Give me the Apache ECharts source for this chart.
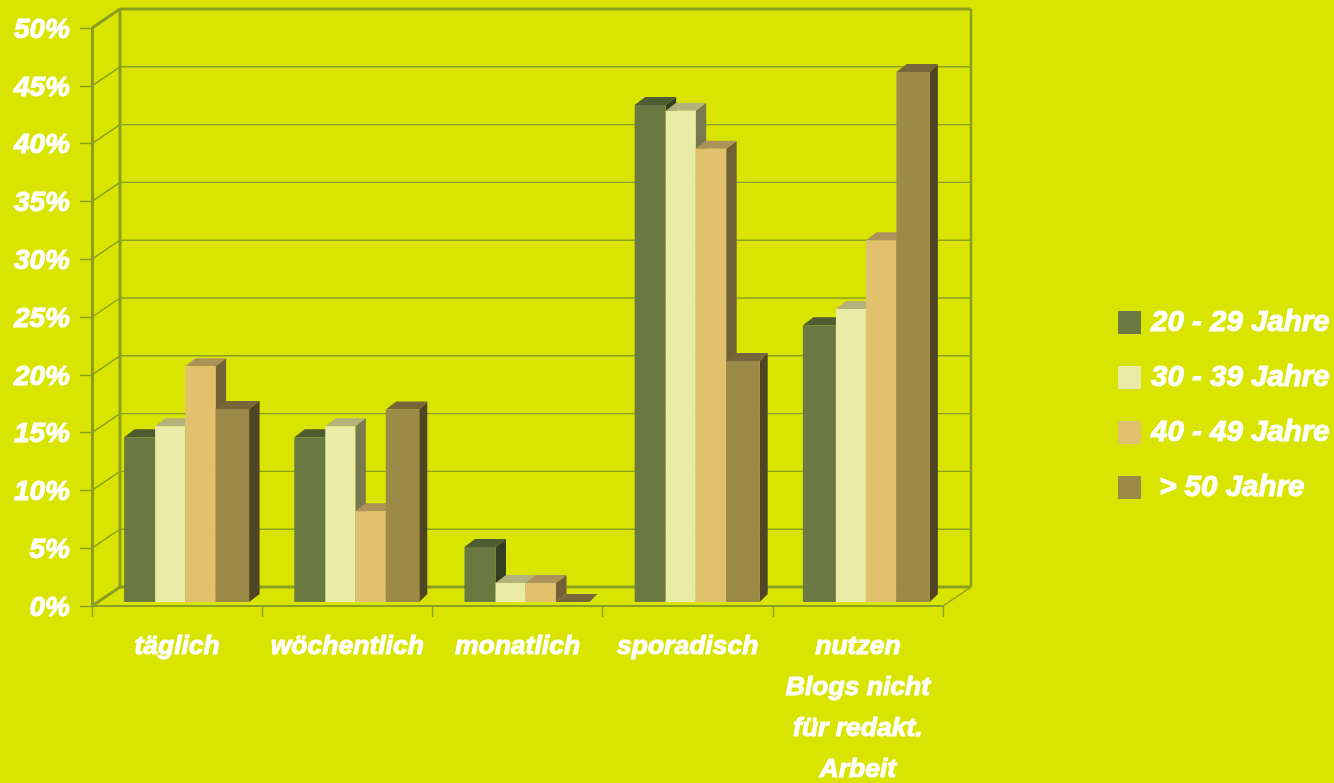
<!DOCTYPE html>
<html><head><meta charset="utf-8">
<style>html,body{margin:0;padding:0;background:#d9e500}#c{width:1334px;height:783px}</style>
<script src="https://cdn.jsdelivr.net/npm/echarts@6/dist/echarts.min.js"></script>
</head><body><div id="c"></div>
<script>
var categories = ['täglich','wöchentlich','monatlich','sporadisch','nutzen\nBlogs nicht\nfür redakt.\nArbeit'];
var seriesNames = ['20 - 29 Jahre','30 - 39 Jahre','40 - 49 Jahre',' > 50 Jahre'];
var age20 = [14.25,14.25,4.75,43.0,23.95];
var age30 = [15.2,15.2,1.65,42.5,25.35];
var age40 = [20.4,7.85,1.65,39.2,31.3];
var age50 = [16.7,16.65,0,20.85,45.85];
var yTicks = [0,5,10,15,20,25,30,35,40,45,50];
var seriesValues = [age20,age30,age40,age50];

var BG='#d9e500', WALL='#8a9f1e', WHITE='#ffffff';
var FONT='"Liberation Sans", Arial, sans-serif';
var front=['#697941','#ebeba8','#e1c06e','#9e8a48'];
var top_=['#4f5b31','#b3b27a','#ad935a','#776639'];
var side=['#333d1f','#79794f','#726036','#4f4526'];
var edges=[-53,-22,8,38.5,72];
var WDX=28, WDY=-19, BDX=10.5, BDY=-8, BARDY=-4;

function poly(pts,fill){return {type:'polygon',shape:{points:pts},style:{fill:fill,stroke:null}};}
function barSeries(si){
  return {
    name:seriesNames[si],type:'custom',z:3,clip:false,
    itemStyle:{color:front[si]},
    encode:{x:0,y:1},
    data:seriesValues[si].map(function(v,i){return [i,v];}),
    renderItem:function(params,api){
      var c=api.value(0),v=api.value(1);
      var p=api.coord([c,v]),b=api.coord([c,0]);
      var e0=edges[si]; if(c===4&&si===0)e0=-55;
      var x0=p[0]+e0,x1=p[0]+edges[si+1];
      var yT=p[1]+BARDY,yB=b[1]+BARDY;
      var sdx=(si===3&&c>=1)?8:BDX;
      return {type:'group',children:[
        poly([[x1,yT],[x1+sdx,yT+BDY],[x1+sdx,yB+BDY],[x1,yB]],side[si]),
        poly([[x0,yT],[x0+BDX,yT+BDY],[x1+sdx,yT+BDY],[x1,yT]],top_[si]),
        poly([[x0,yT],[x1,yT],[x1,yB],[x0,yB]],front[si])
      ]};
    }
  };
}
function line(a,b,w){return {type:'line',shape:{x1:a[0],y1:a[1],x2:b[0],y2:b[1]},style:{stroke:WALL,lineWidth:w}};}
var wall={
  type:'custom',z:1,clip:false,silent:true,
  encode:{y:0},
  data:yTicks.map(function(t){return [t];}),
  renderItem:function(params,api){
    var t=api.value(0);
    var l=api.coord([0,t]); var xl=params.coordSys.x, xr=xl+params.coordSys.width, y=l[1];
    var w=(t===0||t===50)?3:1.4;
    var kids=[
      line([xl,y],[xl+WDX,y+WDY],w),
      line([xl+WDX,y+WDY],[xr+WDX,y+WDY],w)
    ];
    if(t===0){
      kids.push(line([xr,y],[xr+WDX,y+WDY],1.4));
      kids.push(line([xl+WDX,y+WDY],[xl+WDX,params.coordSys.y+WDY],3));
      kids.push(line([xr+WDX,y+WDY],[xr+WDX,params.coordSys.y+WDY],2.5));
    }
    return {type:'group',children:kids};
  }
};
var labelBase={color:WHITE,fontFamily:FONT,fontWeight:'bold',fontStyle:'italic',textBorderColor:WHITE,textBorderWidth:1};
var option={
  backgroundColor:BG,animation:false,
  grid:{left:92,top:28,width:851,height:578,containLabel:false,outerBoundsMode:'none'},
  legend:{
    left:1118,top:307,padding:0,orient:'vertical',itemWidth:23,itemHeight:23,itemGap:24,itemStyle:{borderWidth:0},
    icon:'rect',data:seriesNames,selectedMode:false,
    textStyle:Object.assign({},labelBase,{fontSize:29.5,padding:[0,0,0,5]})
  },
  xAxis:{type:'category',data:categories,boundaryGap:true,
    axisLine:{lineStyle:{color:WALL,width:2}},
    axisTick:{show:true,length:11,lineStyle:{color:WALL,width:1.4}},
    axisLabel:Object.assign({},labelBase,{fontSize:26.5,lineHeight:41,margin:20,interval:0,hideOverlap:false})
  },
  yAxis:{type:'value',min:0,max:50,interval:5,
    axisLine:{show:true,lineStyle:{color:WALL,width:3}},
    axisTick:{show:true,length:12,lineStyle:{color:WALL,width:1.4}},
    splitLine:{show:false},
    axisLabel:Object.assign({},labelBase,{fontSize:28,margin:22,verticalAlign:'top',lineHeight:4,formatter:'{value}%'})
  },
  series:[wall,barSeries(0),barSeries(1),barSeries(2),barSeries(3)]
};
echarts.init(document.getElementById('c')).setOption(option);
</script></body></html>
